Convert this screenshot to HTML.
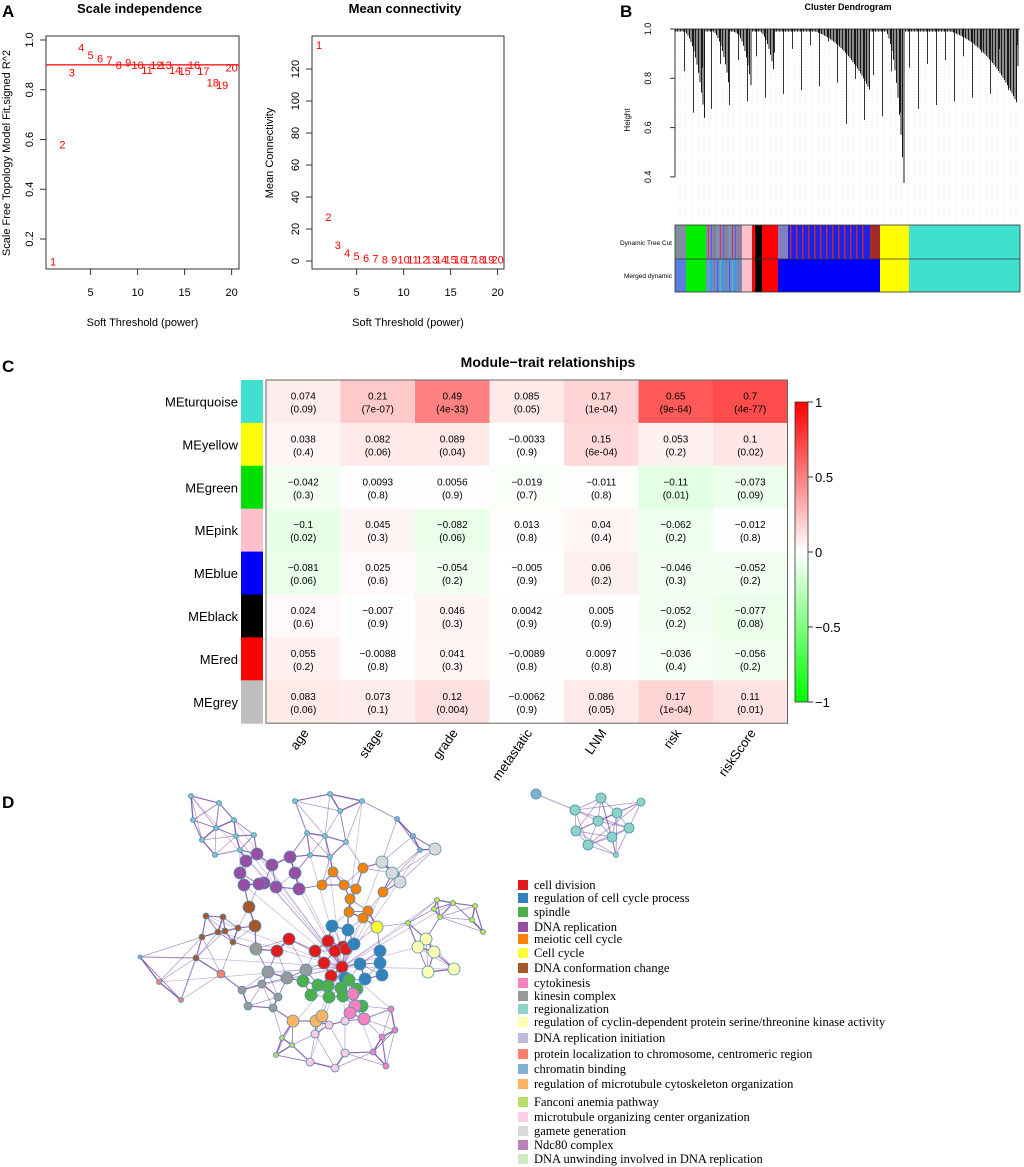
<!DOCTYPE html>
<html><head><meta charset="utf-8"><style>
html,body{margin:0;padding:0;background:#fff;}
body{width:1024px;height:1167px;position:relative;overflow:hidden;font-family:"Liberation Sans",Arial,sans-serif;}
svg{position:absolute;left:0;top:0;}
</style></head><body>
<svg id="fig" width="1024" height="1167" viewBox="0 0 1024 1167" xmlns="http://www.w3.org/2000/svg">
<g id="pA"></g>
<g id="pB"></g>
<g id="pC"></g>
<g id="pD"></g>
</svg>
<script>
// ---- Panel A data ----
const powers = [1,2,3,4,5,6,7,8,9,10,11,12,13,14,15,16,17,18,19,20];
const sftFit = [0.11,0.58,0.87,0.97,0.94,0.925,0.92,0.9,0.91,0.9,0.88,0.9,0.9,0.88,0.875,0.9,0.875,0.83,0.82,0.89];
const meanK = [135,27.5,10,5,3,2,1.5,1,1,0.8,0.8,0.8,0.8,0.8,0.8,0.8,0.8,0.8,0.8,0.8];
const sftYTicks = [0.2,0.4,0.6,0.8,1.0];
const mkYTicks = [0,20,40,60,80,100,120];
const xTicks = [5,10,15,20];
// ---- Panel C data ----
const modules = ['MEturquoise','MEyellow','MEgreen','MEpink','MEblue','MEblack','MEred','MEgrey'];
const moduleColors = ['#40E0D0','#FFFF00','#00E000','#FFC0CB','#0000FF','#000000','#FF0000','#BEBEBE'];
const traits = ['age','stage','grade','metastatic','LNM','risk','riskScore'];
const corr = [
 [0.074,0.21,0.49,0.085,0.17,0.65,0.7],
 [0.038,0.082,0.089,-0.0033,0.15,0.053,0.1],
 [-0.042,0.0093,0.0056,-0.019,-0.011,-0.11,-0.073],
 [-0.1,0.045,-0.082,0.013,0.04,-0.062,-0.012],
 [-0.081,0.025,-0.054,-0.005,0.06,-0.046,-0.052],
 [0.024,-0.007,0.046,0.0042,0.005,-0.052,-0.077],
 [0.055,-0.0088,0.041,-0.0089,0.0097,-0.036,-0.056],
 [0.083,0.073,0.12,-0.0062,0.086,0.17,0.11]];
const pvals = [
 ['0.09','7e-07','4e-33','0.05','1e-04','9e-64','4e-77'],
 ['0.4','0.06','0.04','0.9','6e-04','0.2','0.02'],
 ['0.3','0.8','0.9','0.7','0.8','0.01','0.09'],
 ['0.02','0.3','0.06','0.8','0.4','0.2','0.8'],
 ['0.06','0.6','0.2','0.9','0.2','0.3','0.2'],
 ['0.6','0.9','0.3','0.9','0.9','0.2','0.08'],
 ['0.2','0.8','0.3','0.8','0.8','0.4','0.2'],
 ['0.06','0.1','0.004','0.9','0.05','1e-04','0.01']];
const legendTicks = [1,0.5,0,-0.5,-1];
// ---- Panel D legend ----
const terms = ['cell division','regulation of cell cycle process','spindle','DNA replication','meiotic cell cycle','Cell cycle','DNA conformation change','cytokinesis','kinesin complex','regionalization','regulation of cyclin-dependent protein serine/threonine kinase activity','DNA replication initiation','protein localization to chromosome, centromeric region','chromatin binding','regulation of microtubule cytoskeleton organization','Fanconi anemia pathway','microtubule organizing center organization','gamete generation','Ndc80 complex','DNA unwinding involved in DNA replication'];
const termColors = ['#E31A1C','#3182BD','#4DAF4A','#984EA3','#FF7F00','#FFFF33','#A65628','#F781BF','#999999','#8DD3C7','#FFFFB3','#BEBADA','#FB8072','#80B1D3','#FDB462','#B3DE69','#FCCDE5','#D9D9D9','#BC80BD','#CCEBC5'];

const NS='http://www.w3.org/2000/svg';
function el(tag, attrs, parent, txt){const e=document.createElementNS(NS,tag);for(const k in attrs)e.setAttribute(k,attrs[k]);if(txt!==undefined)e.textContent=txt;parent.appendChild(e);return e;}

// ===== Panel A =====
const pA=document.getElementById('pA');
let t=el('text',{x:2,y:17,'font-size':17,'font-weight':'bold'},pA,'A');

function scatterPanel(x0,x1,y0,y1,yZero,pxPerUnit,yTicks,title,dec,name){
  const g=el('g',{},pA);
  
  const sx=v=>x0+7+(v-1)*9.4; const sy=v=>yZero-v*pxPerUnit;
  el('rect',{x:x0,y:y0,width:x1-x0,height:y1-y0,fill:'none',stroke:'#333','stroke-width':1},g);
  let tt=el('text',{x:(x0+x1)/2-3,y:13,'text-anchor':'middle','font-size':13,'font-weight':'bold'},g,title);
  
  xTicks.forEach(v=>{el('line',{x1:sx(v),x2:sx(v),y1:y1,y2:y1+6,stroke:'#333'},g);
    const l=el('text',{x:sx(v),y:y1+27,'text-anchor':'middle','font-size':11},g,String(v));});
  el('line',{x1:sx(5),x2:sx(20),y1:y1,y2:y1,stroke:'#333'},g);
  yTicks.forEach(v=>{const y=sy(v);el('line',{x1:x0-6,x2:x0,y1:y,y2:y,stroke:'#333'},g);
    const l=el('text',{x:x0-13,y:y,'text-anchor':'middle','font-size':11,transform:`rotate(-90 ${x0-13} ${y})`},g,(dec?v.toFixed(1):String(v)));});
  el('line',{x1:x0,x2:x0,y1:sy(yTicks[0]),y2:sy(yTicks[yTicks.length-1]),stroke:'#333'},g);
  const xl=el('text',{x:(x0+x1)/2,y:326,'text-anchor':'middle','font-size':11},g,'Soft Threshold (power)');
  return {g,sx,sy};
}
let L=scatterPanel(46,239,36,269,288.75,248.75,sftYTicks,'Scale independence',true,'scale-independence-plot');
let yl=el('text',{x:10,y:153,'text-anchor':'middle','font-size':11,transform:'rotate(-90 10 153)'},L.g,'Scale Free Topology Model Fit,signed R^2');

el('line',{x1:46,x2:239,y1:L.sy(0.9),y2:L.sy(0.9),stroke:'#FF0000','stroke-width':1.2},L.g);
powers.forEach((p,i)=>{const tx=el('text',{x:L.sx(p),y:L.sy(sftFit[i])+4,'text-anchor':'middle','font-size':11,fill:'#FF0000'},L.g,String(p));
  });
let R=scatterPanel(312,504,36,269,261,1.6,mkYTicks,'Mean connectivity',false,'mean-connectivity-plot');
let yl2=el('text',{x:273,y:153,'text-anchor':'middle','font-size':11,transform:'rotate(-90 273 153)'},R.g,'Mean Connectivity');

powers.forEach((p,i)=>{const tx=el('text',{x:R.sx(p),y:R.sy(meanK[i])+4,'text-anchor':'middle','font-size':11,fill:'#FF0000'},R.g,String(p));
  });

// ===== Panel B =====
const pB=document.getElementById('pB');
t=el('text',{x:620,y:17,'font-size':17,'font-weight':'bold'},pB,'B');

t=el('text',{x:848,y:10,'text-anchor':'middle','font-size':9,'font-weight':'bold'},pB,'Cluster Dendrogram');

const hy=v=>29+(1-v)*246.5;
[1.0,0.8,0.6,0.4].forEach(v=>{el('line',{x1:670,x2:675,y1:hy(v),y2:hy(v),stroke:'#333'},pB);
 const l=el('text',{x:651,y:hy(v),'text-anchor':'middle','font-size':9,transform:`rotate(-90 651 ${hy(v)})`},pB,v.toFixed(1));});
el('line',{x1:675,x2:675,y1:hy(1),y2:hy(0.4),stroke:'#333'},pB);
t=el('text',{x:630,y:120,'text-anchor':'middle','font-size':8,transform:'rotate(-90 630 120)'},pB,'Height');
const dg=el('g',{},pB);
for(let x=680;x<1018;x+=6){el('line',{x1:x,x2:x,y1:40,y2:222,stroke:'#ccc','stroke-width':0.5,'stroke-dasharray':'1,2'},dg);}
el('line',{x1:675,x2:1020,y1:29,y2:29,stroke:'#555','stroke-width':1},dg);
const segs=[[676,705,0.98,0.6],[705,730,0.98,0.72],[730,752,0.97,0.72],[752,775,0.98,0.78],[775,870,0.99,0.73],[878,905,0.99,0.28],[906,1018,0.99,0.67]];
for(let x=676;x<1018;x+=1.5){
  let hmin=0.99;
  segs.forEach(s=>{if(x>=s[0]&&x<s[1]){const f=(x-s[0])/(s[1]-s[0]);hmin=s[2]-(s[2]-s[3])*Math.pow(f,3);}});
  el('line',{x1:x,x2:x,y1:29,y2:hy(Math.min(hmin+0.02,0.99)),stroke:'#000','stroke-width':0.9},dg);
  if(Math.round(x)%9===0){const h=0.95-((Math.round(x)*37)%23)/23*0.35;el('line',{x1:x+1,x2:x+1,y1:29,y2:hy(Math.max(h,0.45)),stroke:'#000','stroke-width':0.8},dg);}
}
el('line',{x1:1018,x2:1018,y1:29,y2:66,stroke:'#111','stroke-width':1},dg);
const dyn=[[675,686,'#7f8fa0'],[686,706,'#00EE00'],[706,742,'#8e7fa8'],[742,752,'#FFC0CB'],[752,755,'#FF0000'],[755,762,'#000'],[762,778,'#FF0000'],[778,788,'#8080c0'],[788,870,'#2020e8'],[870,880,'#A52A2A'],[880,909,'#FFFF00'],[909,1020,'#40E0D0']];
const mer=[[675,686,'#5a7ee0'],[686,706,'#00EE00'],[706,742,'#6a8cc8'],[742,752,'#FFC0CB'],[752,755,'#FF0000'],[755,762,'#000'],[762,778,'#FF0000'],[778,880,'#0000FF'],[880,909,'#FFFF00'],[909,1020,'#40E0D0']];
const bg=el('g',{},pB);
dyn.forEach(d=>el('rect',{x:d[0],y:225,width:d[1]-d[0],height:34,fill:d[2]},bg));
for(let x=790;x<868;x+=5+(x%3)){el('rect',{x:x,y:225,width:1.5,height:34,fill:'#b03040'},bg);}
for(let x=708;x<740;x+=3){el('rect',{x:x,y:225,width:1,height:34,fill:['#d04040','#40c0c0','#808080','#4060ff'][x%4]},bg);}
mer.forEach(d=>el('rect',{x:d[0],y:259,width:d[1]-d[0],height:33,fill:d[2]},bg));
for(let x=708;x<740;x+=3){el('rect',{x:x,y:259,width:1,height:33,fill:['#40c0c0','#4060ff','#808080','#20a0ff'][x%4]},bg);}
el('rect',{x:675,y:225,width:345,height:67,fill:'none',stroke:'#333','stroke-width':0.8},bg);
el('line',{x1:675,x2:1020,y1:259,y2:259,stroke:'#333','stroke-width':0.8},bg);
t=el('text',{x:672,y:245,'text-anchor':'end','font-size':6.5},pB,'Dynamic Tree Cut');
t=el('text',{x:672,y:278,'text-anchor':'end','font-size':6.5},pB,'Merged dynamic');

// ===== Panel C =====
const pC=document.getElementById('pC');
t=el('text',{x:2,y:372,'font-size':17,'font-weight':'bold'},pC,'C');
t=el('text',{x:548,y:367,'text-anchor':'middle','font-size':14,'font-weight':'bold'},pC,'Module\u2212trait relationships');
const hx0=266,hy0=380,cw=74.5,ch=42.9;
function heatColor(v){const a=Math.min(1,Math.abs(v));const c=Math.round(255*(1-a));return v>=0?`rgb(255,${c},${c})`:`rgb(${c},255,${c})`;}
modules.forEach((m,r)=>{
  const rs=el('rect',{x:241,y:hy0+r*ch,width:22,height:ch+0.5,fill:moduleColors[r]},pC);
  
  const lb=el('text',{x:238,y:hy0+r*ch+ch/2+5,'text-anchor':'end','font-size':13},pC,m);
  
  traits.forEach((tr,c)=>{
    const v=corr[r][c];
    const cell=el('rect',{x:hx0+c*cw,y:hy0+r*ch,width:cw+0.5,height:ch+0.5,fill:heatColor(v)},pC);
    
    const cx=hx0+c*cw+cw/2, cy=hy0+r*ch+ch/2;
    const s=String(v).replace('-','\u2212');
    const a=el('text',{x:cx,y:cy-2,'text-anchor':'middle','font-size':10},pC,s);
    const b=el('text',{x:cx,y:cy+11,'text-anchor':'middle','font-size':10},pC,'('+pvals[r][c]+')');
  });
});
el('rect',{x:hx0,y:hy0,width:cw*7,height:ch*8,fill:'none',stroke:'#666','stroke-width':1},pC);
traits.forEach((tr,c)=>{const cx=hx0+c*cw+cw/2+6, cy=733;
  const l=el('text',{x:cx,y:cy,'text-anchor':'end','font-size':13,transform:`rotate(-55 ${cx} ${cy})`},pC,tr);
  });
const gd=el('defs',{},pC);const lg=el('linearGradient',{id:'cb',x1:0,y1:0,x2:0,y2:1},gd);
el('stop',{offset:'0','stop-color':'#FF0000'},lg);el('stop',{offset:'0.5','stop-color':'#FFFFFF'},lg);el('stop',{offset:'1','stop-color':'#00FF00'},lg);
const cbT=402,cbB=702;
const cb=el('rect',{x:795,y:cbT,width:13,height:cbB-cbT,fill:'url(#cb)',stroke:'#333','stroke-width':0.8},pC);

legendTicks.forEach(v=>{const y=cbT+(1-v)/2*(cbB-cbT);el('line',{x1:808,x2:813,y1:y,y2:y,stroke:'#333'},pC);
  const l=el('text',{x:815,y:y+5,'font-size':13},pC,String(v).replace('-','\u2212'));});

// ===== Panel D =====
const pD=document.getElementById('pD');
t=el('text',{x:2,y:808,'font-size':17,'font-weight':'bold'},pD,'D');
const legY=[885,898,912,927,939,953,968,983,996,1009,1022,1038,1054,1069,1084,1102,1117,1131,1145,1159];
terms.forEach((tm,i)=>{
  const s=el('rect',{x:518,y:legY[i]-5,width:10,height:10,fill:termColors[i]},pD);
  
  const l=el('text',{x:534,y:legY[i]+4,'font-size':12.5,'font-family':'"Liberation Serif",serif'},pD,tm);
  
});
const C=termColors;
const nodes=[];
function add(list,col,r){list.forEach(p=>nodes.push([p[0],p[1],r,col]));}
add([[289,939],[277,951],[315,951],[328,941],[343,947],[335,951],[346,949],[324,963],[342,967],[331,976]],C[0],6);
add([[332,926],[348,930],[354,944],[380,951],[380,963],[360,964],[382,975],[365,979],[345,978]],C[1],6);
add([[303,981],[318,985],[311,995],[328,986],[341,988],[329,997],[343,996],[349,980],[357,989],[362,1006]],C[2],6);
add([[246,861],[257,854],[272,865],[290,857],[295,873],[264,883],[240,873],[244,885],[259,884],[276,887],[299,889]],C[3],6);
add([[344,885],[356,889],[350,899],[349,912],[368,911],[363,918],[333,872],[322,885],[383,892],[363,868]],C[4],5);
add([[377,927]],C[5],6);add([[408,923],[434,909],[440,917],[453,903],[472,920],[483,932],[437,900],[475,906]],'#c8e640',2.5);
add([[426,939],[418,947],[434,952],[428,972],[454,969]],C[10],6);
add([[249,907],[255,926]],C[6],6);add([[206,916],[223,917],[202,937],[218,932],[233,942],[225,931],[196,958],[238,928]],C[6],3);
add([[256,949],[268,972],[287,978],[306,970]],C[8],6);add([[262,984],[278,997],[273,1008],[242,990],[248,1006]],C[8],4);
add([[353,994],[355,1006],[350,1013],[364,1019]],C[7],6);add([[391,1009],[395,1030],[382,1037],[373,1052],[386,1066]],C[7],3);
add([[293,1021],[316,1021],[322,1016]],C[14],6);
add([[329,1025],[345,1021],[315,1034],[345,1053],[310,1062],[335,1068]],C[16],4);
add([[221,974]],C[12],4);add([[159,982],[181,1000]],C[12],2.5);add([[140,957]],C[13],2);
add([[191,796],[219,803],[193,820],[234,820],[216,828],[202,840],[236,836],[215,855],[254,835],[240,850],[295,801],[330,794],[362,801],[340,811],[307,833],[325,836],[346,842],[330,857],[310,855]],'#7fc3d3',2.5);
add([[397,819],[413,836],[420,850],[397,874]],C[13],2.5);add([[435,849],[382,862],[392,873],[400,882]],C[17],6);
add([[282,1038],[292,1045],[276,1055]],C[15],2.5);
const eg=el('g',{},pD);
nodes.forEach((n,i)=>{
  const d=nodes.map((m,j)=>[Math.hypot(m[0]-n[0],m[1]-n[1]),j]).filter(a=>a[1]!==i).sort((a,b)=>a[0]-b[0]);
  for(let k=0;k<4;k++){const m=nodes[d[k][1]];el('line',{x1:n[0],y1:n[1],x2:m[0],y2:m[1],stroke:'#6a3d9a','stroke-opacity':0.55,'stroke-width':k<2?1.3:0.7},eg);}
  if(i%3===0){el('line',{x1:n[0],y1:n[1],x2:342,y2:967,stroke:'#6a3d9a','stroke-opacity':0.35,'stroke-width':0.8},eg);}
});
const ng=el('g',{},pD);
nodes.forEach(n=>{const c=el('circle',{cx:n[0],cy:n[1],r:n[2],fill:n[3],stroke:'#4a90b0','stroke-width':0.8},ng);
  });
const small=[[536,794,5,C[13]],[575,810,5,C[9]],[601,798,5,C[9]],[641,802,4,C[9]],[617,813,5,C[9]],[598,821,5,C[9]],[576,831,5,C[9]],[629,828,5,C[9]],[612,837,5,C[9]],[588,845,5,C[9]],[616,855,2.5,C[9]]];
const sg=el('g',{},pD);
el('line',{x1:536,y1:794,x2:575,y2:810,stroke:'#6a3d9a','stroke-opacity':0.5},sg);
for(let i=1;i<small.length;i++)for(let j=i+1;j<small.length;j++){if((i+j)%2===0||Math.hypot(small[i][0]-small[j][0],small[i][1]-small[j][1])<35)el('line',{x1:small[i][0],y1:small[i][1],x2:small[j][0],y2:small[j][1],stroke:'#6a3d9a','stroke-opacity':0.45,'stroke-width':1},sg);}
small.forEach(n=>{const c=el('circle',{cx:n[0],cy:n[1],r:n[2],fill:n[3],stroke:'#4a90b0','stroke-width':0.8},sg);
  });
</script>
</body></html>
